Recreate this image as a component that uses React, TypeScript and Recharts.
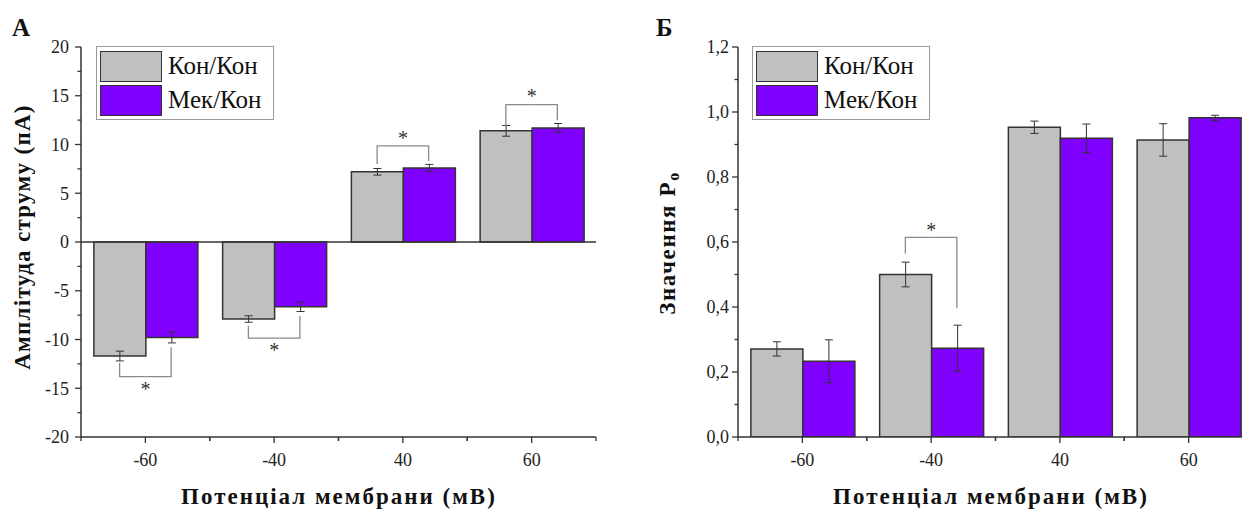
import {
  BarChart,
  Bar,
  XAxis,
  YAxis,
  ErrorBar,
  ReferenceLine,
  ReferenceDot,
  Legend,
} from "recharts";

const SERIF = "'Liberation Serif', 'Liberation Sans', sans-serif";

const categories = ["-60", "-40", "40", "60"];
const seriesNames = ["Кон/Кон", "Мек/Кон"];

// panel A: current amplitude (pA)
const ampKon = [-11.7, -7.9, 7.2, 11.4];
const ampKonErr = [0.5, 0.33, 0.34, 0.55];
const ampMek = [-9.8, -6.65, 7.6, 11.7];
const ampMekErr = [0.55, 0.48, 0.36, 0.45];

// panel B: open probability
const poKon = [0.271, 0.5, 0.953, 0.914];
const poKonErr = [0.022, 0.038, 0.019, 0.05];
const poMek = [0.233, 0.273, 0.919, 0.982];
const poMekErr = [0.066, 0.071, 0.044, 0.008];

const ampTicks = [-20, -17.5, -15, -12.5, -10, -7.5, -5, -2.5, 0, 2.5, 5, 7.5, 10, 12.5, 15, 17.5, 20];
const ampLabels = [-20, -15, -10, -5, 0, 5, 10, 15, 20];
const poTicks = [0, 0.1, 0.2, 0.3, 0.4, 0.5, 0.6, 0.7, 0.8, 0.9, 1.0, 1.1, 1.2];
const poLabels = [0, 0.2, 0.4, 0.6, 0.8, 1.0, 1.2];

// significance brackets: group, bracket level, left/right leg ends, star
const ampBrackets = [
  { group: "-60", level: -13.8, left: -12.4, right: -10.8, star: -14.8 },
  { group: "-40", level: -9.85, left: -8.6, right: -7.6, star: -10.75 },
  { group: "40", level: 9.85, left: 8.0, right: 8.3, star: 10.95 },
  { group: "60", level: 14.1, left: 11.9, right: 12.5, star: 15.25 },
];
const poBrackets = [{ group: "-40", level: 0.614, left: 0.565, right: 0.396, star: 0.647 }];

const GRAY = "#c0c0c0";
const PURPLE = "#8000ff";
const INK = "#333";
const BRACKET = "#8a8a8a";

const hasValue = (list: number[], v: number) => list.some((l) => Math.abs(l - v) < 1e-6);

function YTick(props: any) {
  const { x, y, payload, labels, fmt, gap } = props;
  const major = hasValue(labels, payload.value);
  return (
    <g>
      <line x1={x} x2={x - (major ? 6 : 3.5)} y1={y} y2={y} stroke={INK} strokeWidth={1.3} />
      {major && (
        <text x={x - gap} y={y} dy="0.36em" textAnchor="end" fontSize={18} fill="#222" fontFamily={SERIF}>
          {fmt(payload.value)}
        </text>
      )}
    </g>
  );
}

function XTick(props: any) {
  const { x, y, payload, band } = props;
  return (
    <g stroke={INK} strokeWidth={1.3}>
      <line x1={x} x2={x} y1={y} y2={y + 6} />
      <line x1={x - band / 2} x2={x - band / 2} y1={y} y2={y + 4} />
      <line x1={x + band / 2} x2={x + band / 2} y1={y} y2={y + 4} />
      <text x={x} y={y + 29} textAnchor="middle" fontSize={18} fill="#222" stroke="none" fontFamily={SERIF}>
        {payload.value}
      </text>
    </g>
  );
}

function LegendBox(props: any) {
  const { payload } = props;
  return (
    <div
      style={{
        border: "1px solid #9a9a9a",
        background: "#fff",
        padding: "3px 3px",
        width: 178,
        boxSizing: "border-box",
      }}
    >
      {(payload || []).map((p: any, i: number) => (
        <div key={i} style={{ display: "flex", alignItems: "center", height: 32, marginTop: i ? 2 : 0 }}>
          <div
            style={{
              width: 62,
              height: 31,
              background: p.color,
              border: `1.5px solid ${INK}`,
              boxSizing: "border-box",
            }}
          />
          <span style={{ marginLeft: 6, fontSize: 25, fontFamily: SERIF, color: "#111", lineHeight: "32px" }}>
            {p.value}
          </span>
        </div>
      ))}
    </div>
  );
}

// half bracket: leg at the bar centre (side * offset px from the group centre) up to the level
function halfBracket(side: number, offset: number) {
  return (props: any) => {
    const { x1, y1, y2 } = props;
    const xl = x1 + side * offset;
    return (
      <polyline
        points={`${xl},${y1} ${xl},${y2} ${x1},${y2}`}
        fill="none"
        stroke={BRACKET}
        strokeWidth={1.3}
      />
    );
  };
}

function starLabel(props: any) {
  const vb = props.viewBox;
  const cx = vb.x + vb.width / 2;
  const cy = vb.y + vb.height / 2;
  return (
    <text x={cx} y={cy + 10} textAnchor="middle" fontSize={20} fill={INK} fontFamily={SERIF}>
      *
    </text>
  );
}

interface PanelProps {
  left: number;
  width: number;
  yAxisWidth: number;
  marginRight: number;
  kon: number[];
  konErr: number[];
  mek: number[];
  mekErr: number[];
  domain: [number, number];
  ticks: number[];
  labels: number[];
  fmt: (v: number) => string;
  gap: number;
  brackets: { group: string; level: number; left: number; right: number; star: number }[];
  zeroLine: boolean;
  letter: string;
  letterX: number;
  yTitle: React.ReactNode;
  yTitleX: number;
  yTitleY: number;
  yTitleSpacing: number;
  xTitleX: number;
  legendLeft: number;
}

function Panel(p: PanelProps) {
  const data = categories.map((c, i) => ({
    v: c,
    kon: p.kon[i],
    konErr: p.konErr[i],
    mek: p.mek[i],
    mekErr: p.mekErr[i],
  }));
  const band = (p.width - p.yAxisWidth - p.marginRight) / categories.length;
  // barCategoryGap 10% -> two bars of 40% each; bar centres sit 20% of a band from the group centre
  const offset = band * 0.2;

  return (
    <div style={{ position: "absolute", left: p.left, top: 0 }}>
      <BarChart
        width={p.width}
        height={510}
        data={data}
        margin={{ top: 47, right: p.marginRight, bottom: 0, left: 0 }}
        barCategoryGap="10%"
        barGap={0}
      >
        <XAxis
          dataKey="v"
          height={73}
          interval={0}
          tickSize={0}
          tickMargin={0}
          axisLine={{ stroke: INK, strokeWidth: 1.5 }}
          tick={<XTick band={band} />}
        />
        <YAxis
          type="number"
          width={p.yAxisWidth}
          domain={p.domain}
          ticks={p.ticks}
          interval={0}
          tickSize={0}
          tickMargin={0}
          allowDataOverflow
          axisLine={{ stroke: INK, strokeWidth: 1.5 }}
          tick={<YTick labels={p.labels} fmt={p.fmt} gap={p.gap} />}
        />
        <Legend
          layout="vertical"
          align="center"
          verticalAlign="middle"
          wrapperStyle={{ left: p.legendLeft, top: 46, width: "auto" }}
          content={<LegendBox />}
        />
        {p.zeroLine && <ReferenceLine y={0} stroke={INK} strokeWidth={1.5} />}
        <Bar dataKey="kon" name={seriesNames[0]} fill={GRAY} stroke={INK} strokeWidth={1.5} isAnimationActive={false}>
          <ErrorBar dataKey="konErr" width={4} stroke={INK} strokeWidth={1} />
        </Bar>
        <Bar dataKey="mek" name={seriesNames[1]} fill={PURPLE} stroke={INK} strokeWidth={1.5} isAnimationActive={false}>
          <ErrorBar dataKey="mekErr" width={4} stroke={INK} strokeWidth={1} />
        </Bar>
        {p.brackets.map((b, i) => [
          <ReferenceLine
            key={`l${i}`}
            segment={[{ x: b.group, y: b.left }, { x: b.group, y: b.level }]}
            shape={halfBracket(-1, offset)}
          />,
          <ReferenceLine
            key={`r${i}`}
            segment={[{ x: b.group, y: b.right }, { x: b.group, y: b.level }]}
            shape={halfBracket(1, offset)}
          />,
          <ReferenceDot
            key={`s${i}`}
            x={b.group}
            y={b.star}
            r={1}
            fill="none"
            stroke="none"
            label={starLabel}
          />,
        ])}
        <text x={p.letterX} y={36} fontSize={25} fontWeight="bold" fontFamily={SERIF} fill="#111">
          {p.letter}
        </text>
        <text
          x={p.yTitleX}
          y={p.yTitleY}
          transform={`rotate(-90 ${p.yTitleX} ${p.yTitleY})`}
          textAnchor="middle"
          dominantBaseline="central"
          fontSize={23}
          fontWeight="bold"
          fontFamily={SERIF}
          letterSpacing={p.yTitleSpacing}
          fill="#111"
        >
          {p.yTitle}
        </text>
        <text
          x={p.xTitleX}
          y={504}
          textAnchor="middle"
          fontSize={23}
          fontWeight="bold"
          fontFamily={SERIF}
          letterSpacing={2}
          fill="#111"
        >
          Потенціал мембрани (мВ)
        </text>
      </BarChart>
    </div>
  );
}

export default function App() {
  return (
    <div
      style={{
        position: "absolute",
        left: 0,
        top: 0,
        width: 1242,
        height: 510,
        overflow: "hidden",
        background: "#fff",
        fontFamily: SERIF,
      }}
    >
      <Panel
        left={0}
        width={620}
        yAxisWidth={81}
        marginRight={24}
        kon={ampKon}
        konErr={ampKonErr}
        mek={ampMek}
        mekErr={ampMekErr}
        domain={[-20, 20]}
        ticks={ampTicks}
        labels={ampLabels}
        fmt={(v) => String(v)}
        gap={12}
        brackets={ampBrackets}
        zeroLine
        letter="А"
        letterX={12}
        yTitle="Амплітуда струму (пА)"
        yTitleX={22}
        yTitleY={237}
        yTitleSpacing={1.3}
        xTitleX={339}
        legendLeft={96}
      />
      <Panel
        left={640}
        width={621}
        yAxisWidth={98}
        marginRight={8}
        kon={poKon}
        konErr={poKonErr}
        mek={poMek}
        mekErr={poMekErr}
        domain={[0, 1.2]}
        ticks={poTicks}
        labels={poLabels}
        fmt={(v) => v.toFixed(1).replace(".", ",")}
        gap={9}
        brackets={poBrackets}
        zeroLine={false}
        letter="Б"
        letterX={16}
        yTitle={
          <>
            <tspan>Значення P</tspan>
            <tspan dy={6} fontSize={16}>
              o
            </tspan>
          </>
        }
        yTitleX={27}
        yTitleY={243}
        yTitleSpacing={1.6}
        xTitleX={351}
        legendLeft={112}
      />
    </div>
  );
}
